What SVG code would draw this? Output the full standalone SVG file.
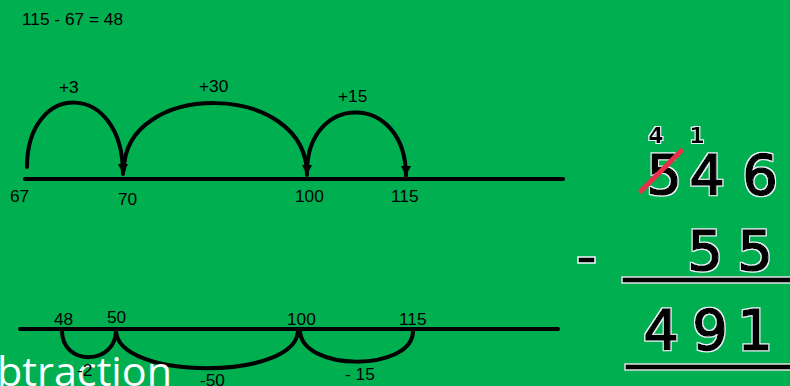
<svg xmlns="http://www.w3.org/2000/svg" width="790" height="386" viewBox="0 0 790 386">
<style>
.lbl{font-family:"Liberation Sans",Arial,sans-serif;font-size:17.3px;fill:#000}
.ln{stroke:#000;stroke-width:4;fill:none;stroke-linecap:round}
.arc{stroke:#000;stroke-width:4;fill:none;stroke-linecap:round}
.big{font-family:"DejaVu Sans",Verdana,sans-serif;font-size:56px;fill:#000;stroke:#000;stroke-width:1.6;text-anchor:middle;filter:url(#halo)}
.small{font-family:"DejaVu Sans",Verdana,sans-serif;font-size:22px;font-weight:bold;fill:#000;text-anchor:middle;filter:url(#halo)}
</style>
<defs>
<marker id="ah" viewBox="0 0 10 10" refX="10" refY="5" markerWidth="10" markerHeight="10" markerUnits="userSpaceOnUse" orient="auto">
<path d="M0,0 L10,5 L0,10 z" fill="#000"/>
</marker>
<filter id="halo" x="-20%" y="-20%" width="140%" height="140%">
<feMorphology in="SourceAlpha" operator="dilate" radius="1.2" result="d"/>
<feFlood flood-color="#f4f6ff"/>
<feComposite in2="d" operator="in" result="w"/>
<feMerge><feMergeNode in="w"/><feMergeNode in="SourceGraphic"/></feMerge>
</filter>
</defs>
<rect width="790" height="386" fill="#00B050"/>
<text class="lbl" x="22" y="25">115 - 67 = 48</text>

<g id="top-line"><line class="ln" x1="25" y1="179" x2="563" y2="179"/></g>
<g id="top-labels">
<text class="lbl" x="10" y="202">67</text>
<text class="lbl" x="118" y="205">70</text>
<text class="lbl" x="295" y="202">100</text>
<text class="lbl" x="391" y="202">115</text>
<text class="lbl" x="59" y="93">+3</text>
<text class="lbl" x="199" y="92">+30</text>
<text class="lbl" x="338" y="102">+15</text>
</g>
<g id="connectors">
<path class="arc" d="M27,167 C27,80 123,80 123,174" marker-end="url(#ah)"/>
<path class="arc" d="M124,170 C124,80 307,80 307,175" marker-end="url(#ah)"/>
<path class="arc" d="M307,172 C307,92 406,92 406,176" marker-end="url(#ah)"/>
<path class="arc" d="M62,331 C62,366 116,366 116,330"/>
<path class="arc" d="M116,330 C116,381 298,381 298,330"/>
<path class="arc" d="M300,330 C300,372 413,372 413,331"/>
</g>

<g id="bottom-line"><line class="ln" x1="20" y1="329" x2="558" y2="329"/></g>
<text x="-3" y="386" font-family="'Open Sans',sans-serif" font-size="40" fill="#fff" textLength="175" lengthAdjust="spacingAndGlyphs">btraction</text>
<g id="bottom-labels">
<text class="lbl" x="54" y="325">48</text>
<text class="lbl" x="107" y="323">50</text>
<text class="lbl" x="287" y="325">100</text>
<text class="lbl" x="399" y="325">115</text>
<text class="lbl" x="77" y="376">-2</text>
<text class="lbl" x="200" y="386">-50</text>
<text class="lbl" x="345" y="380">- 15</text>
</g>

<g id="column-subtraction">
<text class="small" x="656" y="143">4</text>
<text class="small" x="697" y="143">1</text>
<text class="big" x="664" y="194">5</text>
<text class="big" x="707" y="194">4</text>
<text class="big" x="760" y="194">6</text>
<line x1="641" y1="191" x2="681" y2="151" stroke="#e8304a" stroke-width="5" stroke-linecap="round"/>
<text class="big" x="705" y="270">5</text>
<text class="big" x="755" y="270">5</text>
<rect x="578" y="257" width="17" height="6" fill="#000" stroke="#f4f6ff" stroke-width="1.5"/>
<rect x="622" y="277" width="170" height="6" fill="#000" stroke="#e0e0e0" stroke-width="1.5"/>
<text class="big" x="661" y="349">4</text>
<text class="big" x="710" y="349">9</text>
<text class="big" x="755" y="349">1</text>
<rect x="625" y="364" width="170" height="6" fill="#000" stroke="#e0e0e0" stroke-width="1.5"/>
</g>
</svg>
